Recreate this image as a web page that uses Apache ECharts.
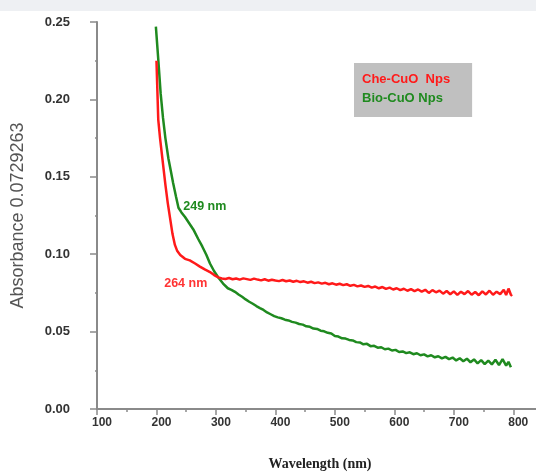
<!DOCTYPE html>
<html>
<head>
<meta charset="utf-8">
<script src="https://cdn.jsdelivr.net/npm/echarts@6/dist/echarts.min.js"></script>
<style>
  html, body { margin: 0; padding: 0; background: #fff; }
  #chart { width: 536px; height: 472px; }
</style>
</head>
<body>
<div id="chart"></div>
<script>
// UV-Vis absorbance spectra of chemically and biologically synthesised CuO nanoparticles

const seriesNames = ['Che-CuO  Nps', 'Bio-CuO Nps'];

// Che-CuO Nps: wavelength (nm) and absorbance
const cheWl = [200, 203, 206, 209, 212, 215, 219, 223, 227, 231, 235, 240, 248, 256, 265, 273, 282, 290, 297, 304, 310,
  316, 322, 328, 334, 340, 346, 352, 358, 364, 370, 376, 382, 388, 394, 400, 406, 412, 418, 424, 430, 436, 442, 448,
  454, 460, 466, 472, 478, 484, 490, 496, 502, 508, 514, 520, 526, 532, 538, 544, 550, 556, 562, 568, 574, 580, 586,
  592, 598, 604, 610, 616, 622, 628, 634, 640, 646, 652, 658, 664, 670, 676, 682, 688, 694, 700, 706, 712, 718, 724,
  730, 736, 742, 748, 754, 760, 766, 772, 778, 784, 788, 792, 796, 798];
const cheAbs = [0.225, 0.187, 0.175, 0.165, 0.155, 0.145, 0.133, 0.123, 0.113, 0.106, 0.102, 0.0995, 0.097, 0.096, 0.094,
  0.092, 0.090, 0.0885, 0.0865, 0.085, 0.0843,
  0.0840, 0.0846, 0.0838, 0.0843, 0.0836, 0.0844, 0.0839, 0.0834, 0.0842, 0.0836, 0.0831, 0.0838, 0.0829, 0.0835,
  0.0830, 0.0826, 0.0833, 0.0825, 0.0830, 0.0822, 0.0828, 0.0820, 0.0825, 0.0816, 0.0822, 0.0813, 0.0818, 0.0810,
  0.0815, 0.0806, 0.0812, 0.0803, 0.0809, 0.0800, 0.0806, 0.0796, 0.0802, 0.0792, 0.0798, 0.0789, 0.0795, 0.0784,
  0.0791, 0.0780, 0.0788, 0.0776, 0.0784, 0.0772, 0.0780, 0.0768, 0.0777, 0.0764, 0.0774, 0.0761, 0.0772, 0.0758,
  0.0770, 0.0750, 0.0768, 0.0754, 0.0765, 0.0745, 0.0762, 0.0741, 0.0760, 0.0737, 0.0758, 0.0742, 0.0762, 0.0738,
  0.0756, 0.0735, 0.0760, 0.0740, 0.0764, 0.0738, 0.0758, 0.0742, 0.0770, 0.0736, 0.0778, 0.0738, 0.0730];

// Bio-CuO Nps: wavelength (nm) and absorbance
const bioWl = [199, 203, 207, 211, 215, 220, 224, 228, 233, 237, 242, 248, 255, 262, 270, 277, 284, 290, 297, 304, 312,
  320, 326, 332, 338, 344, 350, 356, 362, 368, 374, 380, 386, 392, 398, 404, 410, 416, 422, 428, 434, 440, 446, 452,
  458, 464, 470, 476, 482, 488, 494, 500, 506, 512, 518, 524, 530, 536, 542, 548, 554, 560, 566, 572, 578, 584, 590,
  596, 602, 608, 614, 620, 626, 632, 638, 644, 650, 656, 662, 668, 674, 680, 686, 692, 698, 704, 710, 716, 722, 728,
  734, 740, 746, 752, 758, 764, 770, 776, 782, 788, 792, 796];
const bioAbs = [0.247, 0.226, 0.204, 0.188, 0.175, 0.162, 0.154, 0.146, 0.137, 0.130, 0.127, 0.124, 0.120, 0.116, 0.110,
  0.105, 0.0995, 0.094, 0.089, 0.085, 0.081,
  0.0780, 0.0770, 0.0757, 0.0740, 0.0725, 0.0708, 0.0693, 0.0680, 0.0665, 0.0652, 0.0640, 0.0624, 0.0612, 0.0600,
  0.0592, 0.0586, 0.0577, 0.0572, 0.0563, 0.0558, 0.0549, 0.0545, 0.0534, 0.0531, 0.0520, 0.0517, 0.0506, 0.0502,
  0.0492, 0.0488, 0.0472, 0.0468, 0.0457, 0.0455, 0.0446, 0.0443, 0.0432, 0.0430, 0.0418, 0.0421, 0.0406, 0.0408,
  0.0396, 0.0399, 0.0386, 0.0390, 0.0378, 0.0382, 0.0368, 0.0372, 0.0361, 0.0366, 0.0354, 0.0360, 0.0347, 0.0353,
  0.0340, 0.0347, 0.0334, 0.0341, 0.0327, 0.0337, 0.0322, 0.0332, 0.0314, 0.0328, 0.0309, 0.0325, 0.0302, 0.0320,
  0.0295, 0.0316, 0.0290, 0.0312, 0.0288, 0.0318, 0.0284, 0.0322, 0.0280, 0.0305, 0.0270];

// Peak annotations: [label, wavelength of label anchor, absorbance of label anchor]
const cheNote = ['264 nm', 213, 0.0808];
const bioNote = ['249 nm', 245, 0.1305];

const xTicks = { min: 100, max: 850, interval: 100 };
const yTicks = { min: 0, max: 0.25, interval: 0.05 };

const toPairs = (xs, ys) => xs.map((x, i) => [x, ys[i]]);

const axisGray = '#8a8a8a';
const labelFont = "'Liberation Sans', Arial, sans-serif";

const chart = echarts.init(document.getElementById('chart'), null, { renderer: 'canvas' });

function note(n, color) {
  return {
    symbol: 'circle',
    symbolSize: 0,
    silent: true,
    data: [{ coord: [n[1], n[2]], value: n[0] }],
    label: {
      show: true,
      position: 'right',
      distance: 0,
      formatter: '{c}',
      color: color,
      fontFamily: labelFont,
      fontWeight: 'bold',
      fontSize: 12.5
    }
  };
}

chart.setOption({
  animation: false,
  backgroundColor: '#fff',
  graphic: [{
    type: 'rect',
    left: 0, top: 0,
    shape: { width: 536, height: 11 },
    style: { fill: '#eef0f3' },
    silent: true
  }],
  grid: { left: 97, top: 22, width: 446, height: 387, containLabel: false, outerBoundsMode: 'none' },
  legend: {
    left: 354,
    top: 63,
    orient: 'vertical',
    icon: 'none',
    itemWidth: 0,
    itemHeight: 14,
    itemGap: 6,
    padding: [9, 22, 12, 3],
    backgroundColor: '#c0c0c0',
    selectedMode: false,
    textStyle: { fontFamily: labelFont, fontWeight: 'bold', fontSize: 13 },
    data: [
      { name: seriesNames[0], textStyle: { color: '#ff1a1a' } },
      { name: seriesNames[1], textStyle: { color: '#1f8a1f' } }
    ]
  },
  xAxis: [{
    type: 'value',
    min: xTicks.min, max: xTicks.max, interval: xTicks.interval,
    name: 'Wavelength (nm)',
    nameLocation: 'middle',
    nameGap: 48,
    nameTextStyle: { fontFamily: "'Liberation Serif', 'Times New Roman', serif", fontWeight: 'bold', fontSize: 14, color: '#222' },
    axisLine: { show: true, onZero: false, lineStyle: { color: axisGray, width: 2 } },
    axisTick: { show: true, length: 6, lineStyle: { color: axisGray, width: 1.5 } },
    minorTick: { show: true, splitNumber: 2, length: 3, lineStyle: { color: axisGray, width: 1.5 } },
    axisLabel: { margin: 8, showMaxLabel: false, color: '#333', fontFamily: labelFont, fontWeight: 'bold', fontSize: 12, padding: [0, 0, 0, 10] },
    splitLine: { show: false }
  }, {
    type: 'value',
    position: 'top',
    min: xTicks.min, max: xTicks.max,
    axisLine: { show: true, lineStyle: { color: axisGray, width: 2 } },
    axisTick: { show: false },
    axisLabel: { show: false },
    splitLine: { show: false }
  }],
  yAxis: {
    type: 'value',
    min: yTicks.min, max: yTicks.max, interval: yTicks.interval,
    name: 'Absorbance 0.0729263',
    nameLocation: 'middle',
    nameGap: 70,
    nameRotate: 90,
    nameTextStyle: { fontFamily: labelFont, fontSize: 18, color: '#555' },
    axisLine: { show: true, onZero: false, lineStyle: { color: axisGray, width: 2 } },
    axisTick: { show: true, length: 7, lineStyle: { color: axisGray, width: 1.5 } },
    minorTick: { show: true, splitNumber: 2, length: 2, lineStyle: { color: axisGray, width: 1.5 } },
    axisLabel: { margin: 27, color: '#333', fontFamily: labelFont, fontWeight: 'bold', fontSize: 13, formatter: v => v.toFixed(2) },
    splitLine: { show: false }
  },
  series: [{
    name: seriesNames[0],
    type: 'line',
    data: toPairs(cheWl, cheAbs),
    showSymbol: false,
    lineStyle: { color: '#ff1a1a', width: 2.5 },
    itemStyle: { color: '#ff1a1a' },
    z: 3,
    markPoint: note(cheNote, '#ff3333')
  }, {
    name: seriesNames[1],
    type: 'line',
    data: toPairs(bioWl, bioAbs),
    showSymbol: false,
    lineStyle: { color: '#1f8a1f', width: 2.5 },
    itemStyle: { color: '#1f8a1f' },
    z: 2,
    markPoint: note(bioNote, '#1f8a1f')
  }]
});
</script>
</body>
</html>
